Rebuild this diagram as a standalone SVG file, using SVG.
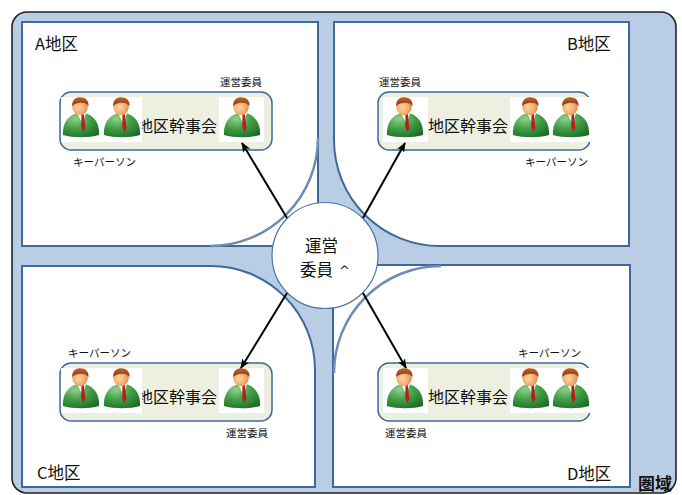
<svg xmlns="http://www.w3.org/2000/svg" xmlns:xlink="http://www.w3.org/1999/xlink" width="682" height="495" viewBox="0 0 682 495">
  <defs>
    <style>
      .jp { font-family: "Noto Sans CJK JP", "Noto Sans", sans-serif; fill: #111; }
      .area { font-size: 16.5px; }
      .small { font-size: 10.5px; }
      .council { font-size: 16px; }
      .center { font-size: 16.5px; }
      .panel { fill: #ffffff; stroke: #3f6999; stroke-width: 2; }
      .inner-curve { fill: none; stroke: #6d8bb3; stroke-width: 2.5; }
      .box { fill: #edf0e1; stroke: #3f6999; stroke-width: 1.5; }
      .iconbg { fill: #ffffff; }
      .link { stroke: #000; stroke-width: 2; fill: none; marker-end: url(#arrow); }
    </style>
    <radialGradient id="gBody" cx="0.35" cy="0.25" r="0.85">
      <stop offset="0" stop-color="#8fd08a"/>
      <stop offset="0.5" stop-color="#3f9d45"/>
      <stop offset="1" stop-color="#1d6b27"/>
    </radialGradient>
    <radialGradient id="gFace" cx="0.4" cy="0.55" r="0.7">
      <stop offset="0" stop-color="#fbd3a4"/>
      <stop offset="0.6" stop-color="#f0a868"/>
      <stop offset="1" stop-color="#c9743a"/>
    </radialGradient>
    <linearGradient id="gHair" x1="0" y1="0" x2="0" y2="1">
      <stop offset="0" stop-color="#c0642a"/>
      <stop offset="1" stop-color="#8a3510"/>
    </linearGradient>
    <!-- person icon: origin at centre of the icon, top of the head -->
    <g id="person">
      <path d="M-18,37 C-19,24 -11,15 0,14.5 C11,15 19,24 18,37 C8,40 -8,40 -18,37 Z" fill="url(#gBody)"/>
      <path d="M-4,15 L5,15 L1.5,26 Z" fill="#ffffff"/>
      <path d="M0.5,16 L2.8,16 L4.5,30 L2.2,34 L0.2,29 Z" fill="#b3201e"/>
      <ellipse cx="-1" cy="8.5" rx="7.8" ry="8.8" fill="url(#gFace)"/>
      <path d="M-8.8,8 C-9.2,0.5 -3.5,-0.8 -1,-0.8 C4.5,-0.8 7.8,2.5 7.6,8 C5,4.2 -3.5,3.2 -8.8,8 Z" fill="url(#gHair)"/>
    </g>
    <marker id="arrow" viewBox="0 0 10 8" refX="9" refY="4" markerWidth="10" markerHeight="8" markerUnits="userSpaceOnUse" orient="auto">
      <path d="M0,0 L10,4 L0,8 L2.5,4 Z" fill="#000"/>
    </marker>
  </defs>

  <!-- whole area -->
  <g id="area">
    <rect x="12" y="12" width="664" height="481" rx="15" ry="15" fill="#b9cde5" stroke="#222" stroke-width="1.6"/>
    <text class="jp" x="638" y="490" font-size="17" font-weight="bold">圏域</text>
  </g>

  <!-- district A (top left) -->
  <g id="district-a">
    <rect class="panel" x="22" y="22" width="296" height="224"/>
    <path class="inner-curve" d="M318,138 A108,108 0 0 1 210,246"/>
    <text class="jp area" x="35" y="50">A地区</text>
    <g id="council-a">
      <rect class="box" x="60" y="92" width="212" height="58" rx="11" ry="11"/>
      <text class="jp council" x="137" y="132">地区幹事会</text>
      <rect class="iconbg" x="61" y="97" width="81" height="45"/>
      <rect class="iconbg" x="219" y="97" width="45" height="45"/>
      <use xlink:href="#person" transform="translate(81,98)"/>
      <use xlink:href="#person" transform="translate(122,98)"/>
      <use xlink:href="#person" transform="translate(242,98)"/>
      <text class="jp small" x="220" y="86">運営委員</text>
      <text class="jp small" x="73" y="166">キーパーソン</text>
    </g>
  </g>

  <!-- district B (top right) -->
  <g id="district-b">
    <path class="panel" d="M334,22 H629 V246 H440 A106,106 0 0 1 334,140 Z"/>
    <text class="jp area" x="567" y="50">B地区</text>
    <g id="council-b">
      <rect class="box" x="378" y="92" width="212" height="58" rx="11" ry="11"/>
      <text class="jp council" x="428" y="132">地区幹事会</text>
      <rect class="iconbg" x="383" y="97" width="45" height="45"/>
      <rect class="iconbg" x="510" y="97" width="81" height="45"/>
      <use xlink:href="#person" transform="translate(405,98)"/>
      <use xlink:href="#person" transform="translate(531,98)"/>
      <use xlink:href="#person" transform="translate(571,98)"/>
      <text class="jp small" x="379" y="86">運営委員</text>
      <text class="jp small" x="525" y="166">キーパーソン</text>
    </g>
  </g>

  <!-- district C (bottom left) -->
  <g id="district-c">
    <path class="panel" d="M22,266 H211 A104,104 0 0 1 315,370 V487 H22 Z"/>
    <text class="jp area" x="37" y="479">C地区</text>
    <g id="council-c">
      <rect class="box" x="60" y="363" width="212" height="58" rx="11" ry="11"/>
      <text class="jp council" x="137" y="403">地区幹事会</text>
      <rect class="iconbg" x="61" y="368" width="81" height="45"/>
      <rect class="iconbg" x="219" y="368" width="45" height="45"/>
      <use xlink:href="#person" transform="translate(81,369)"/>
      <use xlink:href="#person" transform="translate(122,369)"/>
      <use xlink:href="#person" transform="translate(242,369)"/>
      <text class="jp small" x="68" y="357">キーパーソン</text>
      <text class="jp small" x="226" y="437">運営委員</text>
    </g>
  </g>

  <!-- district D (bottom right) -->
  <g id="district-d">
    <rect class="panel" x="333" y="265" width="297" height="222"/>
    <path class="inner-curve" d="M334,373 A107,107 0 0 1 441,266"/>
    <text class="jp area" x="567" y="480">D地区</text>
    <g id="council-d">
      <rect class="box" x="378" y="363" width="212" height="58" rx="11" ry="11"/>
      <text class="jp council" x="428" y="403">地区幹事会</text>
      <rect class="iconbg" x="383" y="368" width="45" height="45"/>
      <rect class="iconbg" x="510" y="368" width="81" height="45"/>
      <use xlink:href="#person" transform="translate(405,369)"/>
      <use xlink:href="#person" transform="translate(531,369)"/>
      <use xlink:href="#person" transform="translate(571,369)"/>
      <text class="jp small" x="518" y="357">キーパーソン</text>
      <text class="jp small" x="385" y="437">運営委員</text>
    </g>
  </g>

  <!-- central committee -->
  <g id="committee">
    <circle cx="325" cy="255.5" r="53" fill="#ffffff" stroke="#4a74a8" stroke-width="1.2"/>
    <text class="jp center" x="305" y="252">運営</text>
    <text class="jp center" x="300" y="276">委員</text>
    <text x="339" y="275" font-family="DejaVu Sans, sans-serif" font-size="13" fill="#111">^</text>
  </g>

  <!-- connectors -->
  <g id="connectors">
    <line class="link" x1="287" y1="218" x2="242" y2="143"/>
    <line class="link" x1="363" y1="218" x2="405" y2="143"/>
    <line class="link" x1="287" y1="293" x2="241" y2="368"/>
    <line class="link" x1="363" y1="293" x2="406" y2="368"/>
  </g>
</svg>
